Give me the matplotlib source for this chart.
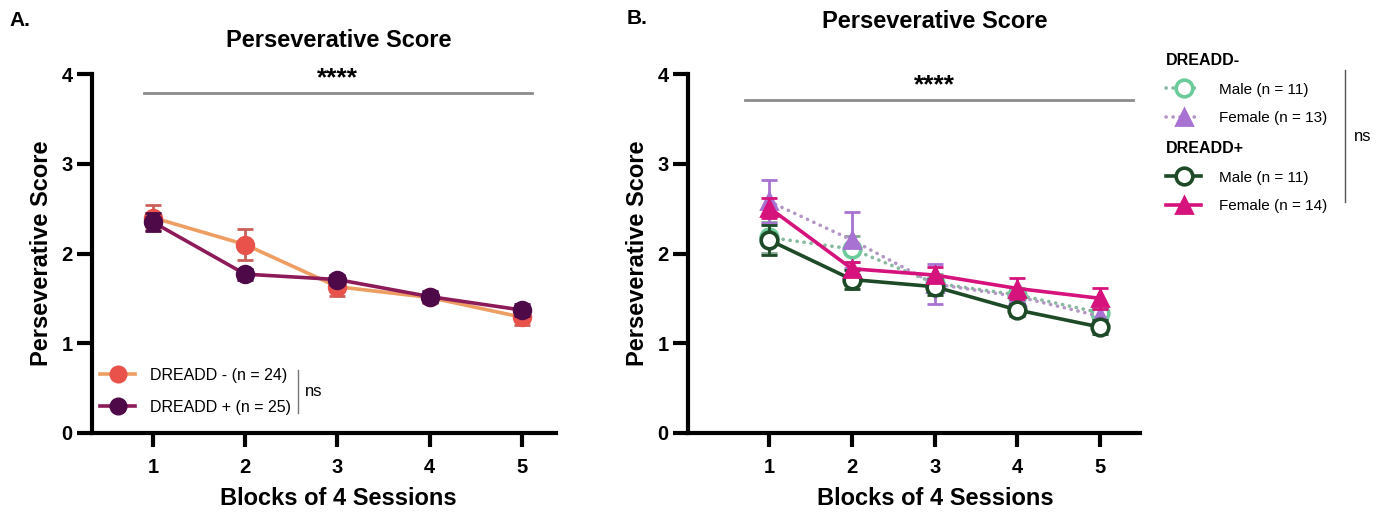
import matplotlib
matplotlib.use("Agg")
import matplotlib.pyplot as plt
from matplotlib.lines import Line2D

plt.rcParams['font.family'] = ['Liberation Sans', 'DejaVu Sans']

# ---- data -------------------------------------------------------------
blocks = [1, 2, 3, 4, 5]
tick_labels = ["1", "2", "3", "4", "5"]

# Panel A: DREADD- vs DREADD+ (mean, SEM)
a_minus_mean = [2.40, 2.10, 1.63, 1.51, 1.29]
a_minus_sem = [0.14, 0.17, 0.10, 0.06, 0.09]
a_plus_mean = [2.35, 1.77, 1.71, 1.52, 1.37]
a_plus_sem = [0.10, 0.06, 0.05, 0.06, 0.07]

# Panel B: split by sex
b_male_minus_mean = [2.18, 2.05, 1.67, 1.54, 1.34]
b_male_minus_sem = [0.17, 0.15, 0.10, 0.08, 0.08]
b_female_minus_mean = [2.58, 2.15, 1.66, 1.52, 1.30]
b_female_minus_sem = [0.24, 0.31, 0.22, 0.08, 0.08]
b_male_plus_mean = [2.15, 1.71, 1.63, 1.37, 1.18]
b_male_plus_sem = [0.17, 0.11, 0.09, 0.07, 0.08]
b_female_plus_mean = [2.51, 1.83, 1.76, 1.61, 1.50]
b_female_plus_sem = [0.11, 0.07, 0.09, 0.12, 0.12]

legend_a = ["DREADD - (n = 24)", "DREADD + (n = 25)"]
legend_b_minus = ["Male (n = 11)", "Female (n = 13)"]
legend_b_plus = ["Male (n = 11)", "Female (n = 14)"]

# ---- colours ----------------------------------------------------------
C_MINUS_FACE = "#E8524B"
C_MINUS_LINE = "#EE9E63"
C_MINUS_ERR = "#C9605C"
C_PLUS_FACE = "#4E0A48"
C_PLUS_LINE = "#8E1B59"
C_MALE_MINUS = "#6CCB9B"
C_MALE_MINUS_LINE = "#86B99E"
C_FEMALE_MINUS = "#A872D2"
C_FEMALE_MINUS_LINE = "#B497C4"
C_MALE_PLUS = "#1E4A27"
C_FEMALE_PLUS = "#D6137C"

W, H = 1385, 514
fig = plt.figure(figsize=(W / 100, H / 100), dpi=100)


def px_axes(left, right, top, bottom):
    return fig.add_axes([left / W, (H - bottom) / H, (right - left) / W, (bottom - top) / H])


axA = px_axes(92, 556, 74, 433)
axB = px_axes(688, 1140, 74, 433)


def style_axis(ax, xlim):
    ax.set_xlim(*xlim)
    ax.set_ylim(0, 4)
    for s in ("top", "right"):
        ax.spines[s].set_visible(False)
    for s in ("left", "bottom"):
        ax.spines[s].set_linewidth(3)
        ax.spines[s].set_capstyle("projecting")
    ax.set_xticks(blocks)
    ax.set_xticklabels(tick_labels)
    ax.set_yticks([0, 1, 2, 3, 4])
    ax.tick_params(axis="x", length=10, width=3, pad=8, labelsize=14.5)
    ax.tick_params(axis="y", length=11, width=3, pad=3, labelsize=14.5)
    for lab in ax.get_xticklabels() + ax.get_yticklabels():
        lab.set_fontweight("bold")
    ax.set_xlabel("Blocks of 4 Sessions", fontsize=17, fontweight="bold")
    ax.set_ylabel("Perseverative Score", fontsize=17, fontweight="bold")


style_axis(axA, (0.34, 5.37))
style_axis(axB, (0.02, 5.48))
axA.xaxis.set_label_coords((338 - 92) / 464, (433 - 487) / 359)
axA.yaxis.set_label_coords((53 - 92) / 464, 0.5)
axB.xaxis.set_label_coords((935 - 688) / 452, (433 - 487) / 359)
axB.yaxis.set_label_coords((649 - 688) / 452, 0.5)


def series(ax, mean, sem, line_color, face, edge, err_color, marker, ms, ls, z, mew=2):
    ax.errorbar(blocks, mean, yerr=sem, fmt="none", ecolor=err_color, elinewidth=2,
                capsize=6, capthick=2, zorder=z, clip_on=False)
    ln, = ax.plot(blocks, mean, color=line_color, lw=2.6, linestyle=ls,
                  dash_capstyle="round", marker=marker, markersize=ms,
                  markerfacecolor=face, markeredgecolor=edge, markeredgewidth=mew,
                  zorder=z + 0.5, clip_on=False)
    return ln


# ---- panel A ----------------------------------------------------------
series(axA, a_minus_mean, a_minus_sem, C_MINUS_LINE, C_MINUS_FACE, C_MINUS_FACE,
       C_MINUS_ERR, "o", 12, "-", 3)
series(axA, a_plus_mean, a_plus_sem, C_PLUS_LINE, C_PLUS_FACE, C_PLUS_FACE,
       C_PLUS_FACE, "o", 12, "-", 5)

axA.plot([0.906, 5.11], [3.79, 3.79], color="#8C8C8C", lw=2, clip_on=False)
axA.text(3, 3.82, "****", ha="center", va="bottom", fontsize=19, fontweight="bold")

hA = [Line2D([], [], color=C_MINUS_LINE, lw=2.6, marker="o", markersize=12,
             markerfacecolor=C_MINUS_FACE, markeredgecolor=C_MINUS_FACE),
      Line2D([], [], color=C_PLUS_LINE, lw=2.6, marker="o", markersize=12,
             markerfacecolor=C_PLUS_FACE, markeredgecolor=C_PLUS_FACE)]
axA.legend(hA, legend_a, loc="upper left", bbox_to_anchor=(100 / W, 1 - 368 / H),
           bbox_transform=fig.transFigure, frameon=False, fontsize=11.5,
           handlelength=2.2, handletextpad=0.95, labelspacing=1.05,
           borderpad=0, borderaxespad=0)
fig.add_artist(Line2D([298 / W, 298 / W], [1 - 370 / H, 1 - 413 / H],
                      color="#777777", lw=1))
fig.text(305 / W, 1 - 392 / H, "ns", fontsize=12, va="center", ha="left")

# ---- panel B ----------------------------------------------------------
dot = (0, (0.05, 1.9))
lm = series(axB, b_male_minus_mean, b_male_minus_sem, C_MALE_MINUS_LINE, "white",
            C_MALE_MINUS, "#86A894", "o", 12, dot, 3, mew=2.6)
lf = series(axB, b_female_minus_mean, b_female_minus_sem, C_FEMALE_MINUS_LINE,
            C_FEMALE_MINUS, C_FEMALE_MINUS, C_FEMALE_MINUS, "^", 11, dot, 3.2)
lmp = series(axB, b_male_plus_mean, b_male_plus_sem, C_MALE_PLUS, "white",
             C_MALE_PLUS, C_MALE_PLUS, "o", 12, "-", 5, mew=2.6)
lfp = series(axB, b_female_plus_mean, b_female_plus_sem, C_FEMALE_PLUS,
             C_FEMALE_PLUS, C_FEMALE_PLUS, C_FEMALE_PLUS, "^", 11, "-", 5.2)

axB.plot([0.71, 5.39], [3.71, 3.71], color="#8C8C8C", lw=2, clip_on=False)
axB.text(3, 3.74, "****", ha="center", va="bottom", fontsize=19, fontweight="bold")

leg_kw = dict(loc="upper left", bbox_transform=fig.transFigure, frameon=False,
              fontsize=11, handlelength=2.3, handletextpad=1.2, labelspacing=0.95,
              borderpad=0, borderaxespad=0, alignment="left",
              title_fontproperties={"weight": "bold", "size": 11.5})
leg1 = axB.legend([lm, lf], legend_b_minus, title="DREADD-",
                  bbox_to_anchor=(1166 / W, 1 - 53 / H), **leg_kw)
axB.add_artist(leg1)
axB.legend([lmp, lfp], legend_b_plus, title="DREADD+",
           bbox_to_anchor=(1166 / W, 1 - 141 / H), **leg_kw)
fig.add_artist(Line2D([1345 / W, 1345 / W], [1 - 70 / H, 1 - 202 / H],
                      color="#555555", lw=1))
fig.text(1354 / W, 1 - 137 / H, "ns", fontsize=12, va="center", ha="left")

# ---- titles and panel letters ----------------------------------------
fig.text(339 / W, 1 - 41 / H, "Perseverative Score", ha="center", va="center",
         fontsize=17, fontweight="bold")
fig.text(935 / W, 1 - 22 / H, "Perseverative Score", ha="center", va="center",
         fontsize=17, fontweight="bold")
fig.text(9 / W, 1 - 21 / H, "A.", ha="left", va="center", fontsize=15, fontweight="bold")
fig.text(627 / W, 1 - 19 / H, "B.", ha="left", va="center", fontsize=15, fontweight="bold")

fig.savefig("out.png", dpi=100)
